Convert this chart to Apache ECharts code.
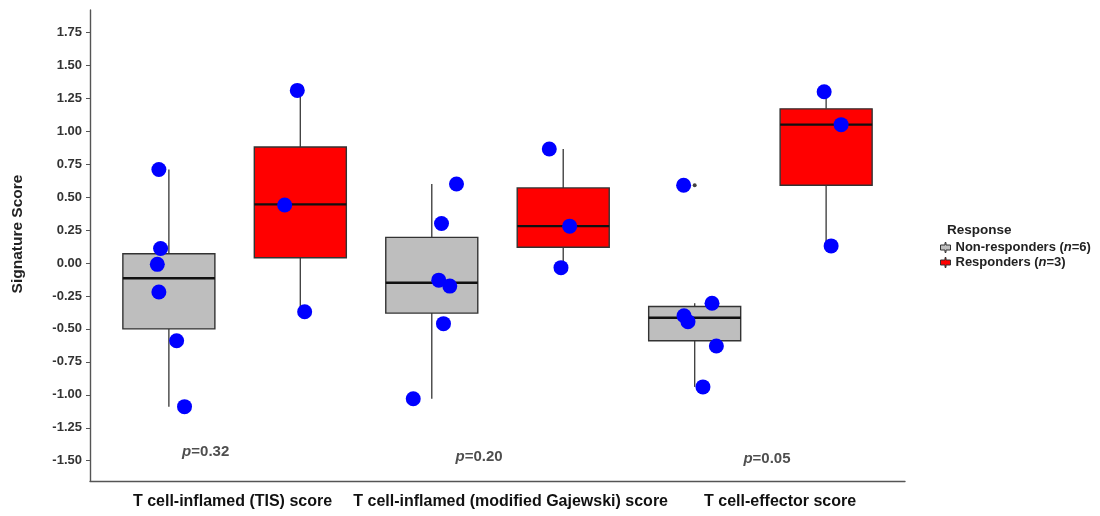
<!DOCTYPE html>
<html>
<head>
<meta charset="utf-8">
<script src="https://cdn.jsdelivr.net/npm/echarts@6/dist/echarts.min.js"></script>
<style>html,body{margin:0;padding:0;background:#fff}#c{width:1100px;height:516px}</style>
</head>
<body>
<div id="c"></div>
<script>
// ---- data ----
const categories = ['T cell-inflamed (TIS) score', 'T cell-inflamed (modified Gajewski) score', 'T cell-effector score'];
const groupNames = ['Non-responders', 'Responders'];
const groupN = [6, 3];
// box statistics per category: [lower whisker, Q1, median, Q3, upper whisker]
const nonRespBox = [
  [-1.09, -0.50, -0.115, 0.07, 0.71],
  [-1.03, -0.38, -0.15, 0.195, 0.60],
  [-0.94, -0.59, -0.415, -0.33, -0.305]
];
const respBox = [
  [-0.37, 0.04, 0.445, 0.88, 1.31],
  [-0.035, 0.12, 0.28, 0.57, 0.865],
  [0.13, 0.59, 1.05, 1.17, 1.30]
];
// individual patient scores per category
const nonRespValues = [
  [0.71, 0.11, -0.01, -0.22, -0.59, -1.09],
  [0.60, 0.30, -0.13, -0.175, -0.46, -1.03],
  [0.59, -0.305, -0.40, -0.445, -0.63, -0.94]
];
const respValues = [
  [1.31, 0.44, -0.37],
  [0.865, 0.28, -0.035],
  [1.30, 1.05, 0.13]
];
// horizontal jitter of the points (in box-position units)
const nonRespJitter = [
  [-0.076, -0.063, -0.088, -0.076, 0.059, 0.119],
  [0.188, 0.074, 0.053, 0.137, 0.089, -0.141],
  [-0.084, 0.132, -0.081, -0.051, 0.165, 0.063]
];
const respJitter = [
  [-0.023, -0.119, 0.033],
  [-0.106, 0.049, -0.017],
  [-0.015, 0.114, 0.038]
];
// boxplot outliers (non-responders)
const nonRespOutliers = [[], [], [0.59]];
const pValues = ['0.32', '0.20', '0.05'];
const yTicks = [-1.5, -1.25, -1.0, -0.75, -0.5, -0.25, 0, 0.25, 0.5, 0.75, 1.0, 1.25, 1.5, 1.75];

// ---- layout / style ----
const FONT = '"Liberation Sans", Arial, sans-serif';
const boxWidth = 0.70;
const xLabelPos = [1.484, 3.6, 5.65];
const pLabelPos = [[1.28, -1.43], [3.36, -1.47], [5.55, -1.485]];

function boxData(stats, offset) {
  return stats.map((s, i) => [2 * i + 1 + offset].concat(s));
}
function pointData(vals, jit, offset) {
  const out = [];
  vals.forEach((arr, i) => arr.forEach((v, j) => out.push([2 * i + 1 + offset + jit[i][j], v])));
  return out;
}
function outlierData(outs, offset) {
  const out = [];
  outs.forEach((arr, i) => arr.forEach(v => out.push([2 * i + 1 + offset, v])));
  return out;
}
function makeRender(fill) {
  return function (params, api) {
    const x = api.value(0);
    const lo = api.coord([x, api.value(1)]);
    const q1 = api.coord([x, api.value(2)]);
    const md = api.coord([x, api.value(3)]);
    const q3 = api.coord([x, api.value(4)]);
    const hi = api.coord([x, api.value(5)]);
    const hw = api.size([boxWidth, 0])[0] / 2;
    return {
      type: 'group',
      children: [
        { type: 'line', shape: { x1: lo[0], y1: lo[1], x2: q1[0], y2: q1[1] }, style: { stroke: '#444', lineWidth: 1.4 } },
        { type: 'line', shape: { x1: q3[0], y1: q3[1], x2: hi[0], y2: hi[1] }, style: { stroke: '#444', lineWidth: 1.4 } },
        { type: 'rect', shape: { x: q1[0] - hw, y: q3[1], width: hw * 2, height: q1[1] - q3[1] }, style: { fill: fill, stroke: '#333', lineWidth: 1.4 } },
        { type: 'line', shape: { x1: md[0] - hw, y1: md[1], x2: md[0] + hw, y2: md[1] }, style: { stroke: '#111', lineWidth: 2.4 } }
      ]
    };
  };
}
const fills = ['#BEBEBE', '#FF0000'];
const legendIcon = 'path://M4.5,0h1v2.5h4.5v5h-4.5v2.5h-1v-2.5h-4.5v-5h4.5z';

const chart = echarts.init(document.getElementById('c'), null, { renderer: 'canvas' });
chart.setOption({
  animation: false,
  backgroundColor: '#fff',
  textStyle: { fontFamily: FONT },
  grid: { left: 90, right: 195, top: 10, bottom: 35 },
  title: {
    text: 'Response', left: 942, top: 218,
    textStyle: { fontFamily: FONT, fontSize: 13.5, fontWeight: 'bold', color: '#222' }
  },
  legend: {
    orient: 'vertical', left: 935, top: 236, itemWidth: 10, itemHeight: 10, itemGap: 2, itemTextGap: 5,
    data: groupNames.map((n, k) => ({
      name: n, icon: legendIcon,
      itemStyle: { color: fills[k], borderColor: '#333', borderWidth: 1 }
    })),
    formatter: name => {
      const k = groupNames.indexOf(name);
      return '{b|' + name + ' (}{i|n}{b|=' + groupN[k] + ')}';
    },
    textStyle: {
      fontFamily: FONT, fontSize: 13, fontWeight: 'bold', color: '#222',
      rich: {
        b: { fontFamily: FONT, fontSize: 13, fontWeight: 'bold', color: '#222' },
        i: { fontFamily: FONT, fontSize: 13, fontWeight: 'bold', fontStyle: 'italic', color: '#222' }
      }
    }
  },
  graphic: [{
    type: 'text', x: 18, y: 234, rotation: Math.PI / 2,
    style: { text: 'Signature Score', fontFamily: FONT, fontSize: 15.5, fontWeight: 'bold', fill: '#222', align: 'center', verticalAlign: 'middle' }
  }],
  xAxis: {
    type: 'value', min: 0.4, max: 6.6,
    splitLine: { show: false },
    axisLine: { show: true, onZero: false, lineStyle: { color: '#555', width: 1.4 } },
    axisTick: { show: false },
    axisLabel: {
      customValues: xLabelPos, margin: 13,
      formatter: v => categories[xLabelPos.indexOf(v)] || '',
      fontFamily: FONT, fontSize: 16, fontWeight: 'bold', color: '#111'
    }
  },
  yAxis: {
    type: 'value', min: -1.654, max: 1.92,
    splitLine: { show: false },
    axisLine: { show: true, onZero: false, lineStyle: { color: '#555', width: 1.4 } },
    axisTick: { show: true, customValues: yTicks, length: 4, lineStyle: { color: '#555' } },
    axisLabel: {
      customValues: yTicks, margin: 8,
      formatter: v => v.toFixed(2),
      fontFamily: FONT, fontSize: 13, fontWeight: 'bold', color: '#333'
    }
  },
  series: [
    {
      name: groupNames[0], type: 'custom', renderItem: makeRender(fills[0]),
      itemStyle: { color: fills[0] },
      encode: { x: 0, y: [1, 2, 3, 4, 5] }, data: boxData(nonRespBox, 0), z: 2
    },
    {
      name: groupNames[1], type: 'custom', renderItem: makeRender(fills[1]),
      itemStyle: { color: fills[1] },
      encode: { x: 0, y: [1, 2, 3, 4, 5] }, data: boxData(respBox, 1), z: 2
    },
    {
      name: 'outliers', type: 'scatter', symbolSize: 4, itemStyle: { color: '#111' },
      data: outlierData(nonRespOutliers, 0), z: 3, silent: true
    },
    {
      name: 'nr-points', type: 'scatter', symbolSize: 15, itemStyle: { color: '#0000FF', opacity: 1 },
      data: pointData(nonRespValues, nonRespJitter, 0), z: 4
    },
    {
      name: 'r-points', type: 'scatter', symbolSize: 15, itemStyle: { color: '#0000FF', opacity: 1 },
      data: pointData(respValues, respJitter, 1), z: 4
    },
    {
      name: 'pvals', type: 'scatter', symbolSize: 0, silent: true,
      data: pLabelPos.map(p => p),
      label: {
        show: true, position: 'inside',
        formatter: p => '{i|p}{b|=' + pValues[p.dataIndex] + '}',
        rich: {
          i: { fontFamily: FONT, fontSize: 15, fontWeight: 'bold', fontStyle: 'italic', color: '#222' },
          b: { fontFamily: FONT, fontSize: 15, fontWeight: 'bold', color: '#222' }
        }
      }
    }
  ]
});
</script>
</body>
</html>
